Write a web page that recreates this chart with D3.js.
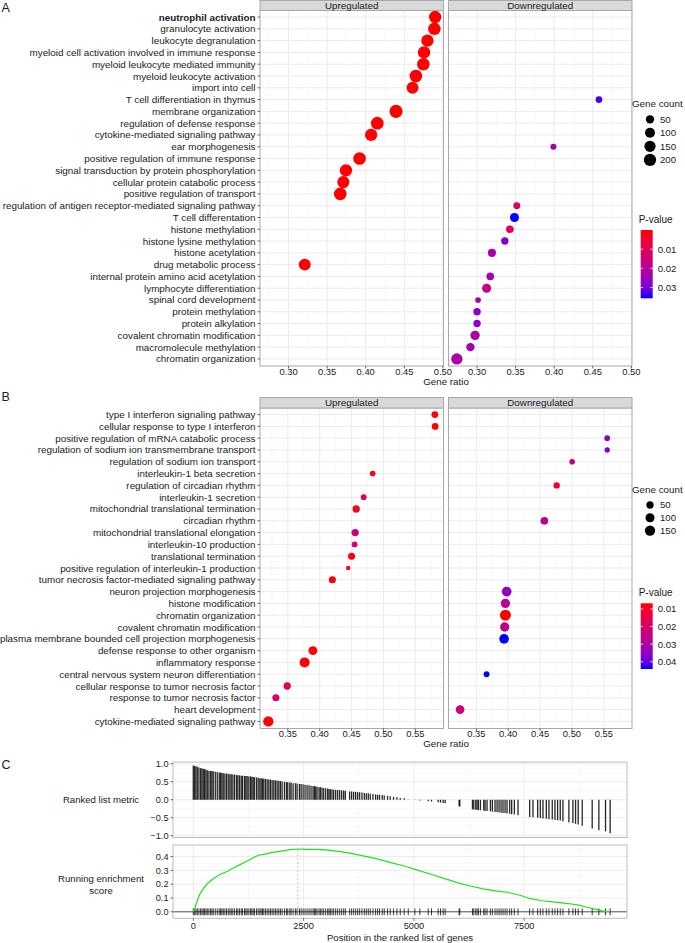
<!DOCTYPE html>
<html><head><meta charset="utf-8">
<script src="https://cdn.jsdelivr.net/npm/d3@7"></script>
<style>
body{margin:0;background:#fff}
svg{display:block}
text{font-family:"Liberation Sans",Arial,Helvetica,sans-serif;fill:#1a1a1a}
</style>
</head><body>
<svg id="c" width="685" height="943"></svg>
<script>
// ================= DATA =================
// Panel A
const termsA = ["neutrophil activation","granulocyte activation","leukocyte degranulation","myeloid cell activation involved in immune response","myeloid leukocyte mediated immunity","myeloid leukocyte activation","import into cell","T cell differentiation in thymus","membrane organization","regulation of defense response","cytokine-mediated signaling pathway","ear morphogenesis","positive regulation of immune response","signal transduction by protein phosphorylation","cellular protein catabolic process","positive regulation of transport","regulation of antigen receptor-mediated signaling pathway","T cell differentation","histone methylation","histone lysine methylation","histone acetylation","drug metabolic process","internal protein amino acid acetylation","lymphocyte differentiation","spinal cord development","protein methylation","protein alkylation","covalent chromatin modification","macromolecule methylation","chromatin organization"];
const upRatioA = [0.490,0.489,0.480,0.4756,0.4747,0.465,0.4607,null,0.4393,0.415,0.407,null,0.392,0.3744,0.371,0.367,null,null,null,null,null,0.321,null,null,null,null,null,null,null,null];
const upCountA = [205,210,200,205,210,215,185,null,240,225,200,null,215,200,190,215,null,null,null,null,null,185,null,null,null,null,null,null,null,null];
const upPA = [1e-5,1e-5,1e-5,1e-5,1e-5,1e-5,1e-5,null,1e-5,1e-5,1e-5,null,1e-5,1e-5,1e-5,1e-5,null,null,null,null,null,1e-5,null,null,null,null,null,null,null,null];
const downRatioA = [null,null,null,null,null,null,null,0.458,null,null,null,0.399,null,null,null,null,0.3515,0.3485,0.3425,0.336,0.3193,null,0.3171,0.3124,0.3013,0.300,0.300,0.2974,0.2914,0.2738];
const downCountA = [null,null,null,null,null,null,null,18,null,null,null,10,null,null,null,null,22,70,35,30,45,null,35,70,6,30,30,80,50,155];
const downPA = [null,null,null,null,null,null,null,0.034,null,null,null,0.024,null,null,null,null,0.011,0.0356,0.010,0.028,0.023,null,0.023,0.016,0.022,0.027,0.027,0.022,0.024,0.022];
const sizeBreaksA = [50,100,150,200];
const pBreaksA = [0.01,0.02,0.03];

// Panel B
const termsB = ["type I interferon signaling pathway","cellular response to type I interferon","positive regulation of mRNA catabolic process","regulation of sodium ion transmembrane transport","regulation of sodium ion transport","interleukin-1 beta secretion","regulation of circadian rhythm","interleukin-1 secretion","mitochondrial translational termination","circadian rhythm","mitochondrial translational elongation","interleukin-10 production","translational termination","positive regulation of interleukin-1 production","tumor necrosis factor-mediated signaling pathway","neuron projection morphogenesis","histone modification","chromatin organization","covalent chromatin modification","plasma membrane bounded cell projection morphogenesis","defense response to other organism","inflammatory response","central nervous system neuron differentiation","cellular response to tumor necrosis factor","response to tumor necrosis factor","heart development","cytokine-mediated signaling pathway"];
const upRatioB = [0.5806,0.5811,null,null,null,0.4831,null,0.469,0.4572,null,0.4556,0.4547,0.450,0.4447,0.4198,null,null,null,null,null,0.3893,0.3763,null,0.349,0.3312,null,0.3194];
const upCountB = [36,36,null,null,null,18,null,20,50,null,50,20,45,5,45,null,null,null,null,null,95,140,null,50,45,null,150];
const upPB = [0.0068,0.0068,null,null,null,0.008,null,0.017,0.009,null,0.024,0.022,0.0085,0.009,0.0075,null,null,null,null,null,0.007,0.007,null,0.017,0.020,null,0.0068];
const downRatioB = [null,null,0.5553,0.5553,0.5003,null,0.476,null,null,0.4567,null,null,null,null,null,0.3976,0.3956,0.3956,0.3945,0.3935,null,null,0.366,null,null,0.3245,null];
const downCountB = [null,null,18,13,18,null,30,null,null,60,null,null,null,null,null,125,110,180,110,125,null,null,22,null,null,90,null];
const downPB = [null,null,0.036,0.037,0.027,null,0.011,null,null,0.028,null,null,null,null,null,0.034,0.026,0.0068,0.027,0.0441,null,null,0.0441,null,null,0.023,null];
const sizeBreaksB = [50,100,150];
const pBreaksB = [0.01,0.02,0.03,0.04];

// Panel C : hits [rank position, ranked list metric]
const rankHits = [[0,0.95],[30,0.94],[60,0.93],[90,0.92],[128,0.90],[166,0.88],[196,0.87],[226,0.86],[256,0.85],[287,0.84],[317,0.82],[354,0.81],[392,0.80],[422,0.80],[452,0.79],[498,0.78],[543,0.77],[588,0.76],[618,0.75],[648,0.75],[679,0.74],[716,0.73],[754,0.73],[792,0.72],[829,0.71],[860,0.71],[897,0.70],[935,0.70],[980,0.69],[1010,0.68],[1048,0.68],[1086,0.67],[1116,0.67],[1161,0.66],[1191,0.66],[1221,0.66],[1259,0.65],[1297,0.65],[1327,0.64],[1357,0.63],[1387,0.63],[1433,0.62],[1470,0.61],[1508,0.60],[1538,0.60],[1568,0.59],[1598,0.59],[1636,0.58],[1674,0.57],[1712,0.56],[1749,0.56],[1787,0.55],[1825,0.54],[1862,0.54],[1900,0.53],[1938,0.53],[1975,0.52],[2013,0.51],[2066,0.50],[2111,0.49],[2141,0.49],[2187,0.48],[2217,0.47],[2262,0.46],[2315,0.46],[2352,0.45],[2405,0.44],[2443,0.44],[2488,0.43],[2533,0.42],[2579,0.41],[2624,0.40],[2669,0.39],[2714,0.38],[2745,0.38],[2775,0.37],[2805,0.36],[2850,0.35],[2880,0.35],[2918,0.34],[2956,0.33],[3001,0.32],[3046,0.31],[3076,0.30],[3106,0.29],[3144,0.29],[3182,0.28],[3227,0.28],[3272,0.27],[3318,0.27],[3363,0.26],[3408,0.26],[3446,0.25],[3544,0.23],[3589,0.23],[3634,0.22],[3680,0.22],[3725,0.21],[3770,0.21],[3823,0.20],[3876,0.19],[3921,0.18],[3966,0.18],[4011,0.17],[4072,0.16],[4132,0.15],[4177,0.14],[4222,0.14],[4283,0.13],[4328,0.12],[4403,0.11],[4464,0.10],[4539,0.08],[4615,0.07],[4690,0.05],[4780,0.04],[4872,0.01],[5022,-0.01],[5135,-0.02],[5324,-0.04],[5399,-0.05],[5550,-0.07],[5603,-0.08],[5663,-0.09],[5708,-0.10],[6025,-0.18],[6040,-0.19],[6327,-0.27],[6357,-0.27],[6402,-0.28],[6432,-0.28],[6462,-0.29],[6508,-0.29],[6583,-0.30],[6613,-0.31],[6658,-0.31],[6734,-0.32],[6779,-0.33],[6839,-0.34],[6885,-0.35],[6930,-0.35],[6975,-0.36],[7020,-0.37],[7066,-0.37],[7111,-0.38],[7171,-0.39],[7216,-0.40],[7277,-0.41],[7360,-0.43],[7624,-0.48],[7699,-0.49],[7805,-0.50],[7865,-0.51],[7925,-0.52],[8001,-0.53],[8061,-0.54],[8136,-0.55],[8197,-0.56],[8257,-0.57],[8317,-0.58],[8378,-0.60],[8513,-0.63],[8604,-0.65],[8664,-0.67],[8724,-0.69],[8815,-0.72],[9041,-0.80],[9192,-0.85],[9343,-0.88],[9448,-0.93]];
const esCurve = [[0,0],[40,0.03],[90,0.08],[150,0.13],[230,0.17],[320,0.205],[450,0.24],[600,0.27],[750,0.29],[900,0.315],[1050,0.34],[1200,0.365],[1350,0.39],[1480,0.41],[1650,0.42],[1800,0.43],[2000,0.44],[2200,0.45],[2370,0.455],[2550,0.452],[2750,0.452],[3000,0.448],[3250,0.44],[3550,0.425],[3850,0.405],[4150,0.385],[4500,0.355],[4800,0.33],[5100,0.30],[5400,0.27],[5700,0.24],[6000,0.21],[6300,0.185],[6600,0.165],[6900,0.15],[7150,0.14],[7400,0.12],[7650,0.095],[7900,0.08],[8200,0.07],[8500,0.06],[8700,0.05],[8900,0.035],[9100,0.02],[9300,0.005],[9450,0]];
const esPeakPos = 2370;
const esPeak = 0.455;
const metricTicks = [-1.0,-0.5,0.0,0.5,1.0];
const esTicks = [0.0,0.1,0.2,0.3,0.4];
const posTicks = [0,2500,5000,7500];

// ================= DRAW =================
const svg = d3.select("#c");
const BORDER = "#a8a8a8", GRID = "#ebebeb", GRIDMIN = "#f4f4f4";
const YFONT = 9.85;

function panelLetter(t,x,y){
  svg.append("text").attr("x",x).attr("y",y).attr("font-size",12.5).text(t);
}

function dotPlot(cfg){
  const y = d3.scalePoint().domain(cfg.terms).range([cfg.top, cfg.bottom]).padding(0.6);
  const all = cfg.upR.concat(cfg.dnR).filter(v=>v!=null);
  const ext = d3.extent(all), pad = (ext[1]-ext[0])*0.05;
  const dom = [ext[0]-pad, ext[1]+pad];
  const step = cfg.ticks[1]-cfg.ticks[0];
  const minor = [];
  for(let i=-1;i<cfg.ticks.length;i++){const m=cfg.ticks[0]+step*(i+0.5); if(m>dom[0]&&m<dom[1]) minor.push(m);}
  const pTop = cfg.top + 0.5;
  const facets = [
    {name:"Upregulated",x0:260,x1:443.5,R:cfg.upR,C:cfg.upC,P:cfg.upP},
    {name:"Downregulated",x0:448.5,x1:632,R:cfg.dnR,C:cfg.dnC,P:cfg.dnP}];
  facets.forEach(f=>{
    const x = d3.scaleLinear().domain(dom).range([f.x0,f.x1]);
    const g = svg.append("g");
    g.selectAll(".mn").data(minor).enter().append("line")
      .attr("x1",d=>x(d)).attr("x2",d=>x(d)).attr("y1",pTop).attr("y2",cfg.bottom)
      .attr("stroke",GRIDMIN).attr("stroke-width",0.6);
    g.selectAll(".mj").data(cfg.ticks).enter().append("line")
      .attr("x1",d=>x(d)).attr("x2",d=>x(d)).attr("y1",pTop).attr("y2",cfg.bottom)
      .attr("stroke",GRID).attr("stroke-width",1);
    g.selectAll(".hy").data(cfg.terms).enter().append("line")
      .attr("x1",f.x0).attr("x2",f.x1).attr("y1",d=>y(d)).attr("y2",d=>y(d))
      .attr("stroke",GRID).attr("stroke-width",1);
    const pts = f.R.map((r,i)=>({r:r,c:f.C[i],p:f.P[i],t:cfg.terms[i]})).filter(d=>d.r!=null);
    g.selectAll("circle").data(pts).enter().append("circle")
      .attr("cx",d=>x(d.r)).attr("cy",d=>y(d.t)).attr("r",d=>cfg.size(d.c))
      .attr("fill",d=>cfg.color(d.p));
    g.append("rect").attr("x",f.x0).attr("y",pTop).attr("width",f.x1-f.x0).attr("height",cfg.bottom-pTop)
      .attr("fill","none").attr("stroke",BORDER).attr("stroke-width",1);
    g.append("rect").attr("x",f.x0).attr("y",cfg.stripTop).attr("width",f.x1-f.x0).attr("height",pTop-cfg.stripTop)
      .attr("fill","#d9d9d9").attr("stroke",BORDER).attr("stroke-width",1);
    g.append("text").attr("x",(f.x0+f.x1)/2).attr("y",(cfg.stripTop+pTop)/2+3.5)
      .attr("text-anchor","middle").attr("font-size",9.8).text(f.name);
    const xa = g.append("g");
    xa.selectAll("line").data(cfg.ticks).enter().append("line")
      .attr("x1",d=>x(d)).attr("x2",d=>x(d)).attr("y1",cfg.bottom).attr("y2",cfg.bottom+2.5)
      .attr("stroke","#444").attr("stroke-width",0.8);
    xa.selectAll("text").data(cfg.ticks).enter().append("text")
      .attr("x",d=>x(d)).attr("y",cfg.bottom+8.8).attr("text-anchor","middle")
      .attr("font-size",9.4).attr("fill","#333").text(d=>d3.format(".2f")(d));
  });
  const ya = svg.append("g");
  ya.selectAll("line").data(cfg.terms).enter().append("line")
    .attr("x1",257.5).attr("x2",260).attr("y1",d=>y(d)).attr("y2",d=>y(d))
    .attr("stroke","#444").attr("stroke-width",0.8);
  ya.selectAll("text").data(cfg.terms).enter().append("text")
    .attr("x",255.5).attr("y",d=>y(d)+3.5).attr("text-anchor","end").attr("font-size",YFONT)
    .attr("font-weight",d=>d===cfg.bold?"bold":"normal").attr("fill","#111").text(d=>d);
  svg.append("text").attr("x",446).attr("y",cfg.bottom+18.6).attr("text-anchor","middle")
    .attr("font-size",9.8).text("Gene ratio");
}

function sizeLegend(cfg){
  svg.append("text").attr("x",cfg.x-2).attr("y",cfg.titleY).attr("font-size",9.8).text("Gene count");
  cfg.breaks.forEach((b,i)=>{
    const cy = cfg.y0 + i*cfg.step;
    svg.append("circle").attr("cx",cfg.x+16).attr("cy",cy).attr("r",cfg.size(b)).attr("fill","#000");
    svg.append("text").attr("x",cfg.x+26).attr("y",cy+3.4).attr("font-size",9.6).text(b);
  });
}

function colorLegend(cfg){
  svg.append("text").attr("x",cfg.x).attr("y",cfg.titleY).attr("font-size",10).text("P-value");
  const id = "grad"+cfg.id;
  const grad = svg.append("defs").append("linearGradient").attr("id",id)
    .attr("x1",0).attr("x2",0).attr("y1",0).attr("y2",1);
  d3.range(0,1.0001,0.1).forEach(t=>{
    grad.append("stop").attr("offset",t).attr("stop-color",cfg.color(cfg.dom[0]+t*(cfg.dom[1]-cfg.dom[0])));
  });
  const bx = cfg.x+2, bw = 12;
  svg.append("rect").attr("x",bx).attr("y",cfg.y0).attr("width",bw).attr("height",cfg.y1-cfg.y0).attr("fill",`url(#${id})`);
  const ys = d3.scaleLinear().domain(cfg.dom).range([cfg.y0,cfg.y1]);
  cfg.breaks.forEach(b=>{
    const yy = ys(b);
    svg.append("line").attr("x1",bx).attr("x2",bx+2.4).attr("y1",yy).attr("y2",yy).attr("stroke","#fff").attr("stroke-width",0.8);
    svg.append("line").attr("x1",bx+bw-2.4).attr("x2",bx+bw).attr("y1",yy).attr("y2",yy).attr("stroke","#fff").attr("stroke-width",0.8);
    svg.append("text").attr("x",bx+bw+5).attr("y",yy+3.4).attr("font-size",9.6).text(d3.format(".2f")(b));
  });
}

// ---------- Panel A ----------
const allPA = upPA.concat(downPA).filter(v=>v!=null);
const colorA = d3.scaleLinear().domain(d3.extent(allPA)).range(["#ff0000","#0000ff"]).interpolate(d3.interpolateLab);
const sizeA = d3.scaleSqrt().domain([50,200]).range([4.15,6.15]);
panelLetter("A",1.5,11.5);
dotPlot({terms:termsA, upR:upRatioA, upC:upCountA, upP:upPA, dnR:downRatioA, dnC:downCountA, dnP:downPA,
  top:10, bottom:366, stripTop:0.5, ticks:[0.30,0.35,0.40,0.45,0.50], size:sizeA, color:colorA, bold:"neutrophil activation"});
sizeLegend({x:634, titleY:106.5, y0:119.3, step:13.5, breaks:sizeBreaksA, size:sizeA});
colorLegend({id:"A", x:638.7, titleY:222.5, y0:230, y1:298.3, dom:d3.extent(allPA), breaks:pBreaksA, color:colorA});

// ---------- Panel B ----------
const allPB = upPB.concat(downPB).filter(v=>v!=null);
const colorB = d3.scaleLinear().domain(d3.extent(allPB)).range(["#ff0000","#0000ff"]).interpolate(d3.interpolateLab);
const sizeB = d3.scaleSqrt().domain([50,150]).range([3.65,5.15]);
panelLetter("B",1.5,400.5);
dotPlot({terms:termsB, upR:upRatioB, upC:upCountB, upP:upPB, dnR:downRatioB, dnC:downCountB, dnP:downPB,
  top:407.5, bottom:728.5, stripTop:397.5, ticks:[0.35,0.40,0.45,0.50,0.55], size:sizeB, color:colorB, bold:null});
sizeLegend({x:634, titleY:492.8, y0:505, step:12.8, breaks:sizeBreaksB, size:sizeB});
colorLegend({id:"B", x:638.7, titleY:595.8, y0:603.3, y1:669, dom:d3.extent(allPB), breaks:pBreaksB, color:colorB});

// ---------- Panel C ----------
panelLetter("C",1.5,769);
const cx = d3.scaleLinear().domain([-460,9830]).range([173,627]);
const yTop = d3.scaleLinear().domain([-1.05,1.05]).range([837.5,762]);
const yBot = d3.scaleLinear().domain([-0.047,0.484]).range([918.3,845]);
const posMinor = [1250,3750,6250,8750];

function gridC(ys, yMaj, yMin, r){
  const g = svg.append("g");
  yMin.forEach(v=>g.append("line").attr("x1",173).attr("x2",627).attr("y1",ys(v)).attr("y2",ys(v)).attr("stroke",GRIDMIN).attr("stroke-width",0.6));
  posMinor.forEach(v=>g.append("line").attr("x1",cx(v)).attr("x2",cx(v)).attr("y1",r[0]).attr("y2",r[1]).attr("stroke",GRIDMIN).attr("stroke-width",0.6));
  yMaj.forEach(v=>g.append("line").attr("x1",173).attr("x2",627).attr("y1",ys(v)).attr("y2",ys(v)).attr("stroke",GRID).attr("stroke-width",1));
  posTicks.forEach(v=>g.append("line").attr("x1",cx(v)).attr("x2",cx(v)).attr("y1",r[0]).attr("y2",r[1]).attr("stroke",GRID).attr("stroke-width",1));
  return g;
}
function yAxisC(ys, ticks){
  ticks.forEach(v=>{
    svg.append("line").attr("x1",170.5).attr("x2",173).attr("y1",ys(v)).attr("y2",ys(v)).attr("stroke","#444").attr("stroke-width",0.8);
    svg.append("text").attr("x",168.5).attr("y",ys(v)+3.2).attr("text-anchor","end").attr("font-size",9.2).attr("fill","#333").text(d3.format(".1f")(v));
  });
}
gridC(yTop, metricTicks, [-0.75,-0.25,0.25,0.75], [762,837.5]);
svg.append("g").selectAll("line").data(rankHits).enter().append("line")
  .attr("x1",d=>cx(d[0])).attr("x2",d=>cx(d[0])).attr("y1",yTop(0)).attr("y2",d=>yTop(d[1]))
  .attr("stroke","#000").attr("stroke-width",1.3).attr("stroke-opacity",0.85);
svg.append("rect").attr("x",173).attr("y",762).attr("width",454).attr("height",75.5).attr("fill","none").attr("stroke","#bcbcbc").attr("stroke-width",1);
yAxisC(yTop, metricTicks);
svg.append("text").attr("x",101).attr("y",802.5).attr("text-anchor","middle").attr("font-size",9.6).text("Ranked list metric");

gridC(yBot, esTicks, [0.05,0.15,0.25,0.35,0.45], [845,918.3]);
svg.append("line").attr("x1",173).attr("x2",627).attr("y1",yBot(0)).attr("y2",yBot(0)).attr("stroke","#555").attr("stroke-width",1);
svg.append("g").selectAll("line").data(rankHits).enter().append("line")
  .attr("x1",d=>cx(d[0])).attr("x2",d=>cx(d[0])).attr("y1",yBot(-0.025)).attr("y2",yBot(0.025))
  .attr("stroke","#000").attr("stroke-width",0.9).attr("stroke-opacity",0.85);
svg.append("line").attr("x1",cx(esPeakPos)).attr("x2",cx(esPeakPos)).attr("y1",yBot(0)).attr("y2",yBot(esPeak))
  .attr("stroke","#f08080").attr("stroke-width",0.7).attr("stroke-dasharray","2,2");
svg.append("path").datum(esCurve).attr("fill","none").attr("stroke","#22e022").attr("stroke-width",1.2)
  .attr("d",d3.line().x(d=>cx(d[0])).y(d=>yBot(d[1])));
svg.append("rect").attr("x",173).attr("y",845).attr("width",454).attr("height",73.3).attr("fill","none").attr("stroke","#bcbcbc").attr("stroke-width",1);
yAxisC(yBot, esTicks);
svg.append("text").attr("x",101).attr("y",881.5).attr("text-anchor","middle").attr("font-size",9.6).text("Running enrichment");
svg.append("text").attr("x",101).attr("y",893.5).attr("text-anchor","middle").attr("font-size",9.6).text("score");
posTicks.forEach(v=>{
  svg.append("line").attr("x1",cx(v)).attr("x2",cx(v)).attr("y1",918.3).attr("y2",920.8).attr("stroke","#444").attr("stroke-width",0.8);
  svg.append("text").attr("x",cx(v)).attr("y",929).attr("text-anchor","middle").attr("font-size",9.2).attr("fill","#333").text(v);
});
svg.append("text").attr("x",400).attr("y",941).attr("text-anchor","middle").attr("font-size",9.6).text("Position in the ranked list of genes");
</script>
</body></html>
